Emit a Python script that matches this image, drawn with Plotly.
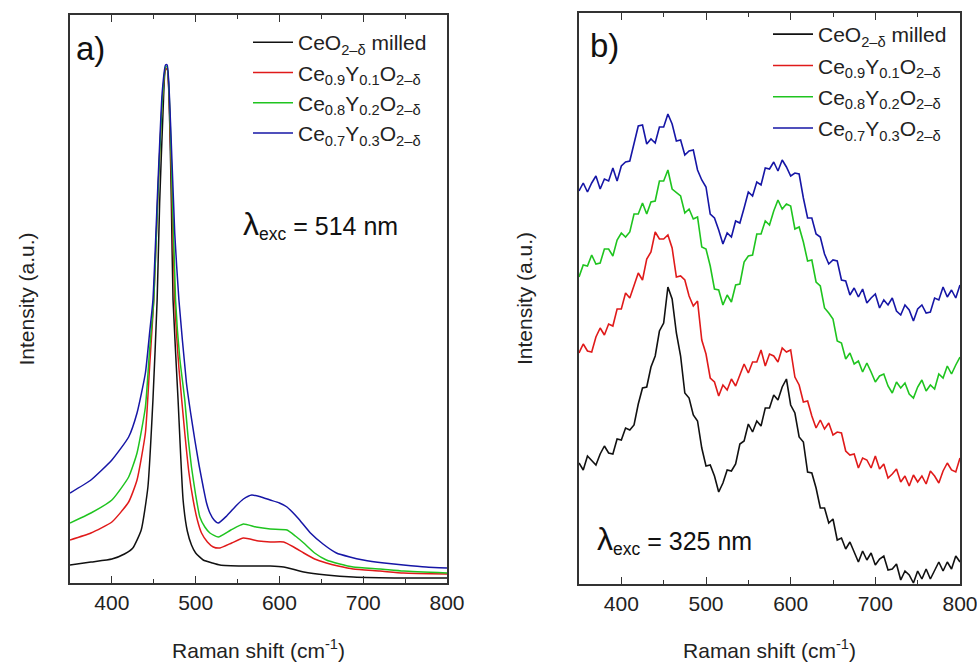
import plotly.graph_objects as go

# ---------------- Panel a) (514 nm) ----------------
a_black_x = [350, 375, 400, 415, 425, 435, 443, 449, 454, 457, 461, 464, 466, 469, 471, 473, 479, 485, 490, 495, 500, 509, 520, 529, 557, 589, 605, 629, 656, 688, 748, 800]
a_black_y = [18, 21, 24, 29, 35, 53, 96, 183, 283, 380, 470, 514, 514, 460, 380, 283, 183, 83, 52, 38, 30, 23, 20, 18, 17, 17, 16, 11, 8, 6, 5, 5]

a_red_x = [350, 375, 400, 420, 430, 440, 445, 450, 455, 460, 464, 466, 470, 475, 480, 487, 492, 497, 502, 507, 514, 521, 529, 543, 557, 575, 589, 605, 617, 629, 642, 656, 670, 688, 720, 748, 800]
a_red_y = [43, 50, 61, 81, 103, 150, 216, 283, 390, 480, 514, 514, 440, 283, 215, 150, 110, 83, 63, 50, 41, 36, 35, 40, 45, 42, 41, 41, 36, 30, 24, 20, 17, 14, 12, 10, 9]

a_green_x = [350, 375, 400, 420, 430, 440, 445, 450, 455, 460, 464, 466, 470, 476, 481, 487, 491, 495, 500, 505, 511, 517, 527, 542, 557, 572, 589, 609, 619, 629, 642, 656, 672, 688, 720, 748, 800]
a_green_y = [60, 70, 83, 106, 130, 176, 233, 283, 390, 480, 516, 516, 450, 283, 225, 183, 145, 116, 88, 66, 56, 50, 46, 53, 59, 56, 54, 53, 47, 40, 30, 23, 19, 16, 14, 12, 10]

a_blue_x = [350, 375, 400, 420, 430, 440, 445, 449, 455, 460, 464, 466, 470, 475, 480, 489, 494, 499, 504, 509, 513, 517, 522, 527, 537, 548, 557, 567, 578, 589, 600, 609, 622, 637, 652, 668, 684, 700, 725, 748, 775, 800]
a_blue_y = [90, 103, 123, 146, 170, 210, 250, 283, 400, 490, 518, 518, 460, 350, 283, 200, 170, 143, 118, 96, 80, 70, 63, 60, 67, 77, 84, 88, 86, 83, 80, 76, 65, 50, 39, 30, 26, 23, 20, 18, 16, 15]

# ---------------- Panel b) (325 nm) ----------------
b_shift = [350, 355, 360, 365, 370, 375, 380, 385, 390, 395, 400, 405, 410, 415, 420, 425, 430, 435, 440, 445,
           450, 455, 460, 465, 470, 475, 480, 485, 490, 495, 500, 505, 510, 515, 520, 525, 530, 535, 540, 545,
           550, 555, 560, 565, 570, 575, 580, 585, 590, 595, 600, 605, 610, 615, 620, 625, 630, 635, 640, 645,
           650, 655, 660, 665, 670, 675, 680, 685, 690, 695, 700, 705, 710, 715, 720, 725, 730, 735, 740, 745,
           750, 755, 760, 765, 770, 775, 780, 785, 790, 795, 800]

b_black_y = [121, 114, 128, 124, 119, 130, 138, 131, 130, 145, 144, 156, 154, 159, 180, 196, 197, 217, 228, 253,
             261, 297, 285, 251, 228, 191, 186, 169, 163, 136, 118, 119, 108, 92, 101, 114, 113, 120, 140, 143,
             160, 152, 163, 158, 176, 176, 189, 184, 197, 205, 179, 171, 147, 142, 112, 111, 96, 76, 76, 61,
             65, 44, 46, 35, 42, 32, 22, 33, 24, 31, 19, 25, 28, 14, 15, 20, 4, 13, 9, 1,
             13, 5, 15, 5, 13, 22, 13, 22, 15, 28, 22]

b_red_y = [231, 240, 233, 232, 247, 256, 249, 260, 258, 275, 275, 291, 286, 299, 311, 304, 325, 332, 352, 345,
           345, 349, 336, 307, 308, 304, 288, 278, 283, 244, 230, 206, 202, 188, 199, 194, 205, 198, 210, 220,
           211, 222, 222, 234, 218, 230, 228, 222, 236, 232, 234, 207, 199, 182, 183, 168, 156, 164, 155, 161,
           149, 152, 151, 133, 129, 130, 116, 126, 124, 116, 128, 115, 120, 106, 110, 115, 102, 108, 98, 109,
           102, 108, 100, 113, 108, 101, 113, 121, 114, 112, 126]

b_green_y = [307, 319, 318, 329, 320, 321, 335, 335, 328, 344, 351, 347, 352, 370, 370, 381, 370, 382, 383, 403,
             403, 414, 395, 391, 388, 371, 375, 365, 367, 337, 335, 318, 295, 294, 279, 289, 282, 299, 300, 322,
             328, 329, 350, 350, 363, 359, 373, 384, 375, 380, 378, 355, 357, 342, 323, 324, 302, 298, 276, 271,
             265, 243, 241, 225, 231, 220, 223, 212, 221, 212, 202, 208, 210, 198, 191, 202, 196, 201, 190, 186,
             197, 204, 193, 199, 195, 210, 206, 218, 210, 219, 227]

b_blue_y = [393, 401, 392, 401, 408, 395, 405, 403, 416, 403, 418, 422, 423, 442, 458, 459, 440, 445, 441, 457,
            457, 470, 460, 443, 444, 429, 433, 434, 414, 404, 397, 370, 366, 354, 340, 351, 347, 363, 361, 376,
            392, 388, 402, 399, 416, 415, 422, 413, 424, 417, 408, 411, 410, 386, 366, 366, 350, 347, 330, 320,
            324, 323, 304, 303, 289, 296, 287, 295, 281, 286, 290, 276, 284, 279, 286, 273, 269, 279, 274, 263,
            275, 279, 271, 272, 286, 284, 297, 287, 294, 286, 299]

names = ["CeO<sub>2–δ</sub> milled",
         "Ce<sub>0.9</sub>Y<sub>0.1</sub>O<sub>2–δ</sub>",
         "Ce<sub>0.8</sub>Y<sub>0.2</sub>O<sub>2–δ</sub>",
         "Ce<sub>0.7</sub>Y<sub>0.3</sub>O<sub>2–δ</sub>"]
colors = ["#111111", "#e01a1a", "#1fc41f", "#1616a6"]

FONT = "Arial, Liberation Sans, sans-serif"
fig = go.Figure()

a_series = [(a_black_x, a_black_y), (a_red_x, a_red_y), (a_green_x, a_green_y), (a_blue_x, a_blue_y)]
b_series = [b_black_y, b_red_y, b_green_y, b_blue_y]

for i, (xs, ys) in enumerate(a_series):
    fig.add_trace(go.Scatter(x=xs, y=ys, mode="lines", name=names[i],
                             line=dict(color=colors[i], width=1.5, shape="spline", smoothing=0.5),
                             xaxis="x", yaxis="y", legend="legend", legendgroup="a%d" % i))
for i, ys in enumerate(b_series):
    fig.add_trace(go.Scatter(x=b_shift, y=ys, mode="lines", name=names[i],
                             line=dict(color=colors[i], width=1.6),
                             xaxis="x2", yaxis="y2", legend="legend2", legendgroup="b%d" % i))

W, H = 977, 662
def px_x(p):
    return p / W
def px_y(p):
    return 1 - p / H

axis_common = dict(showline=True, linecolor="#333333", linewidth=1.5, mirror="ticks",
                   ticks="inside", ticklen=7, tickwidth=1.3, tickcolor="#333333",
                   showgrid=False, zeroline=False, automargin=False,
                   ticklabeloverflow="allow",
                   tickfont=dict(family=FONT, size=21, color="#222222"))
xaxis_common = dict(axis_common, range=[350, 800], tickvals=[400, 500, 600, 700, 800],
                    minor=dict(ticks="inside", ticklen=4, tickwidth=1.2, tickcolor="#333333",
                               tickvals=[450, 550, 650, 750]))

fig.update_layout(
    width=W, height=H,
    margin=dict(l=0, r=0, t=0, b=0, autoexpand=False),
    paper_bgcolor="white", plot_bgcolor="white",
    font=dict(family=FONT, color="#222222"),
    xaxis=dict(xaxis_common, domain=[px_x(70), px_x(447)], anchor="y",
               title=dict(text="Raman shift (cm<sup>-1</sup>)", font=dict(size=21), standoff=30)),
    yaxis=dict(axis_common, domain=[px_y(583), px_y(15)], anchor="x", range=[0, 568],
               showticklabels=False, ticks="",
               title=dict(text="Intensity (a.u.)", font=dict(size=21), standoff=28)),
    xaxis2=dict(xaxis_common, domain=[px_x(579), px_x(960)], anchor="y2",
                title=dict(text="Raman shift (cm<sup>-1</sup>)", font=dict(size=21), standoff=30)),
    yaxis2=dict(axis_common, domain=[px_y(584), px_y(13)], anchor="x2", range=[0, 571],
                showticklabels=False, ticks="",
                title=dict(text="Intensity (a.u.)", font=dict(size=21), standoff=39)),
    legend=dict(x=px_x(248), y=px_y(22), xanchor="left", yanchor="top",
                bgcolor="rgba(0,0,0,0)", font=dict(size=21, family=FONT, color="#222222"),
                traceorder="grouped", tracegroupgap=0, itemwidth=40),
    legend2=dict(x=px_x(768), y=px_y(14), xanchor="left", yanchor="top",
                 bgcolor="rgba(0,0,0,0)", font=dict(size=21, family=FONT, color="#222222"),
                 traceorder="grouped", tracegroupgap=1, itemwidth=40),
    showlegend=True,
)

fig.add_annotation(x=px_x(74), y=px_y(48), xref="paper", yref="paper", text="a)",
                   showarrow=False, xanchor="left", yanchor="middle",
                   font=dict(size=33, family=FONT, color="#111111"))
fig.add_annotation(x=px_x(588), y=px_y(45), xref="paper", yref="paper", text="b)",
                   showarrow=False, xanchor="left", yanchor="middle",
                   font=dict(size=33, family=FONT, color="#111111"))
fig.add_annotation(x=px_x(241), y=px_y(225), xref="paper", yref="paper",
                   text="<span style='font-size:32px'>λ</span><sub>exc</sub> = 514 nm",
                   showarrow=False, xanchor="left", yanchor="middle",
                   font=dict(size=25, family=FONT, color="#111111"))
fig.add_annotation(x=px_x(595), y=px_y(540), xref="paper", yref="paper",
                   text="<span style='font-size:32px'>λ</span><sub>exc</sub> = 325 nm",
                   showarrow=False, xanchor="left", yanchor="middle",
                   font=dict(size=25, family=FONT, color="#111111"))

fig.write_html("out.html", config={"displayModeBar": False},
               post_script="document.body.style.margin='0px';document.body.style.overflow='hidden';")
